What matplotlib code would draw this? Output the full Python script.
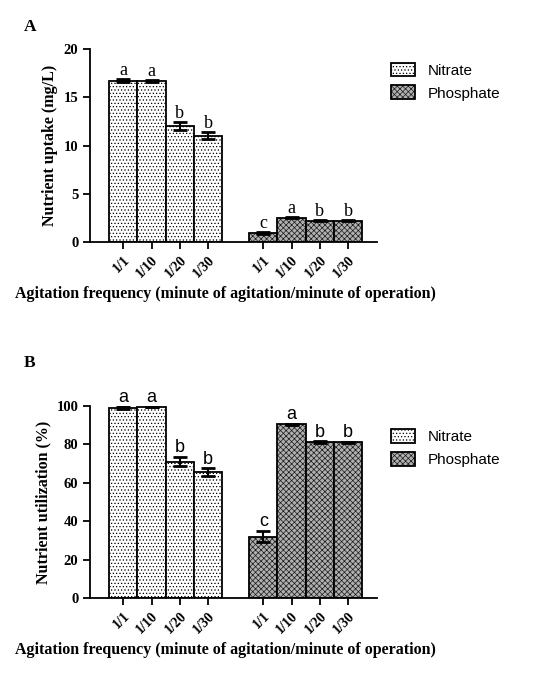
import matplotlib.pyplot as plt
import numpy as np

cats = ["1/1", "1/10", "1/20", "1/30"]
a_nit = [16.7, 16.7, 12.0, 11.0]
a_nit_err = [0.15, 0.08, 0.4, 0.35]
a_pho = [0.9, 2.5, 2.2, 2.2]
a_pho_err = [0.1, 0.05, 0.05, 0.05]
a_nit_lab = ["a", "a", "b", "b"]
a_pho_lab = ["c", "a", "b", "b"]
b_nit = [99.0, 99.5, 71.0, 65.5]
b_nit_err = [0.8, 0.2, 2.5, 2.0]
b_pho = [32.0, 90.5, 81.0, 81.0]
b_pho_err = [3.0, 0.3, 0.5, 0.3]
b_nit_lab = ["a", "a", "b", "b"]
b_pho_lab = ["c", "a", "b", "b"]

serif = "Liberation Serif"
sans = "Liberation Sans"
plt.rcParams['hatch.linewidth'] = 0.5

fig = plt.figure(figsize=(5.37, 6.83), dpi=100)
axA = fig.add_axes([0.168, 0.6457, 0.534, 0.2825])
axB = fig.add_axes([0.168, 0.1245, 0.534, 0.2811])

def panel(ax, nit, nerr, pho, perr, nl, pl, ymax, step, ylabel, letfont, letsize, off, legy):
    x1 = np.arange(4)
    x2 = np.arange(4) + 4.95
    plt.rcParams['hatch.color'] = '#999999'
    b1 = ax.bar(x1, nit, 1.0, color='white', edgecolor='black', linewidth=1.3, hatch='.....', label='Nitrate')
    b2 = ax.bar(x2, pho, 1.0, color='#b0b0b0', edgecolor='black', linewidth=1.3, hatch='xxxxxx', label='Phosphate')
    for b in b2:
        b._hatch_color = (0.1, 0.1, 0.1, 1)
    ax.errorbar(x1, nit, yerr=nerr, fmt='none', ecolor='black', elinewidth=1.5, capsize=5, capthick=2)
    ax.errorbar(x2, pho, yerr=perr, fmt='none', ecolor='black', elinewidth=1.5, capsize=5, capthick=2)
    for xs, vs, es, ls in ((x1, nit, nerr, nl), (x2, pho, perr, pl)):
        for xx, v, e, l in zip(xs, vs, es, ls):
            ax.text(xx, v + e + off, l, ha='center', va='bottom', fontsize=letsize, family=letfont)
    ax.set_xlim(-1.17, 8.97)
    ax.set_ylim(0, ymax)
    ax.set_yticks(np.arange(0, ymax + 1, step))
    ax.set_xticks(list(x1) + list(x2))
    ax.set_xticklabels(cats + cats, rotation=45, ha='right', rotation_mode='anchor',
                       fontsize=10, family=serif, fontweight='bold')
    for t in ax.get_yticklabels():
        t.set_family(serif); t.set_fontweight('bold'); t.set_fontsize(10.5)
    ax.spines['top'].set_visible(False)
    ax.spines['right'].set_visible(False)
    ax.spines['left'].set_linewidth(1.3)
    ax.spines['bottom'].set_linewidth(1.3)
    ax.tick_params(width=1.3, length=5)
    ax.set_ylabel(ylabel, family=serif, fontweight='bold', fontsize=11.5)
    ax.set_xlabel("Agitation frequency (minute of agitation/minute of operation)",
                  family=serif, fontweight='bold', fontsize=11.5, x=0.47)
    ax.legend(handles=[b1, b2], loc='upper left', bbox_to_anchor=(1.0, legy), frameon=False,
              prop={'family': sans, 'size': 11}, handlelength=1.6, handleheight=1.0,
              handletextpad=0.8, labelspacing=0.5)

panel(axA, a_nit, a_nit_err, a_pho, a_pho_err, a_nit_lab, a_pho_lab, 20, 5,
      "Nutrient uptake (mg/L)", serif, 13, 0.05, 1.0)
panel(axB, b_nit, b_nit_err, b_pho, b_pho_err, b_nit_lab, b_pho_lab, 100, 20,
      "Nutrient utilization (%)", sans, 13, 0.3, 0.95)
fig.text(0.045, 0.955, "A", family=serif, fontweight='bold', fontsize=12.5)
fig.text(0.045, 0.462, "B", family=serif, fontweight='bold', fontsize=12.5)
fig.savefig("out.png", dpi=100)
